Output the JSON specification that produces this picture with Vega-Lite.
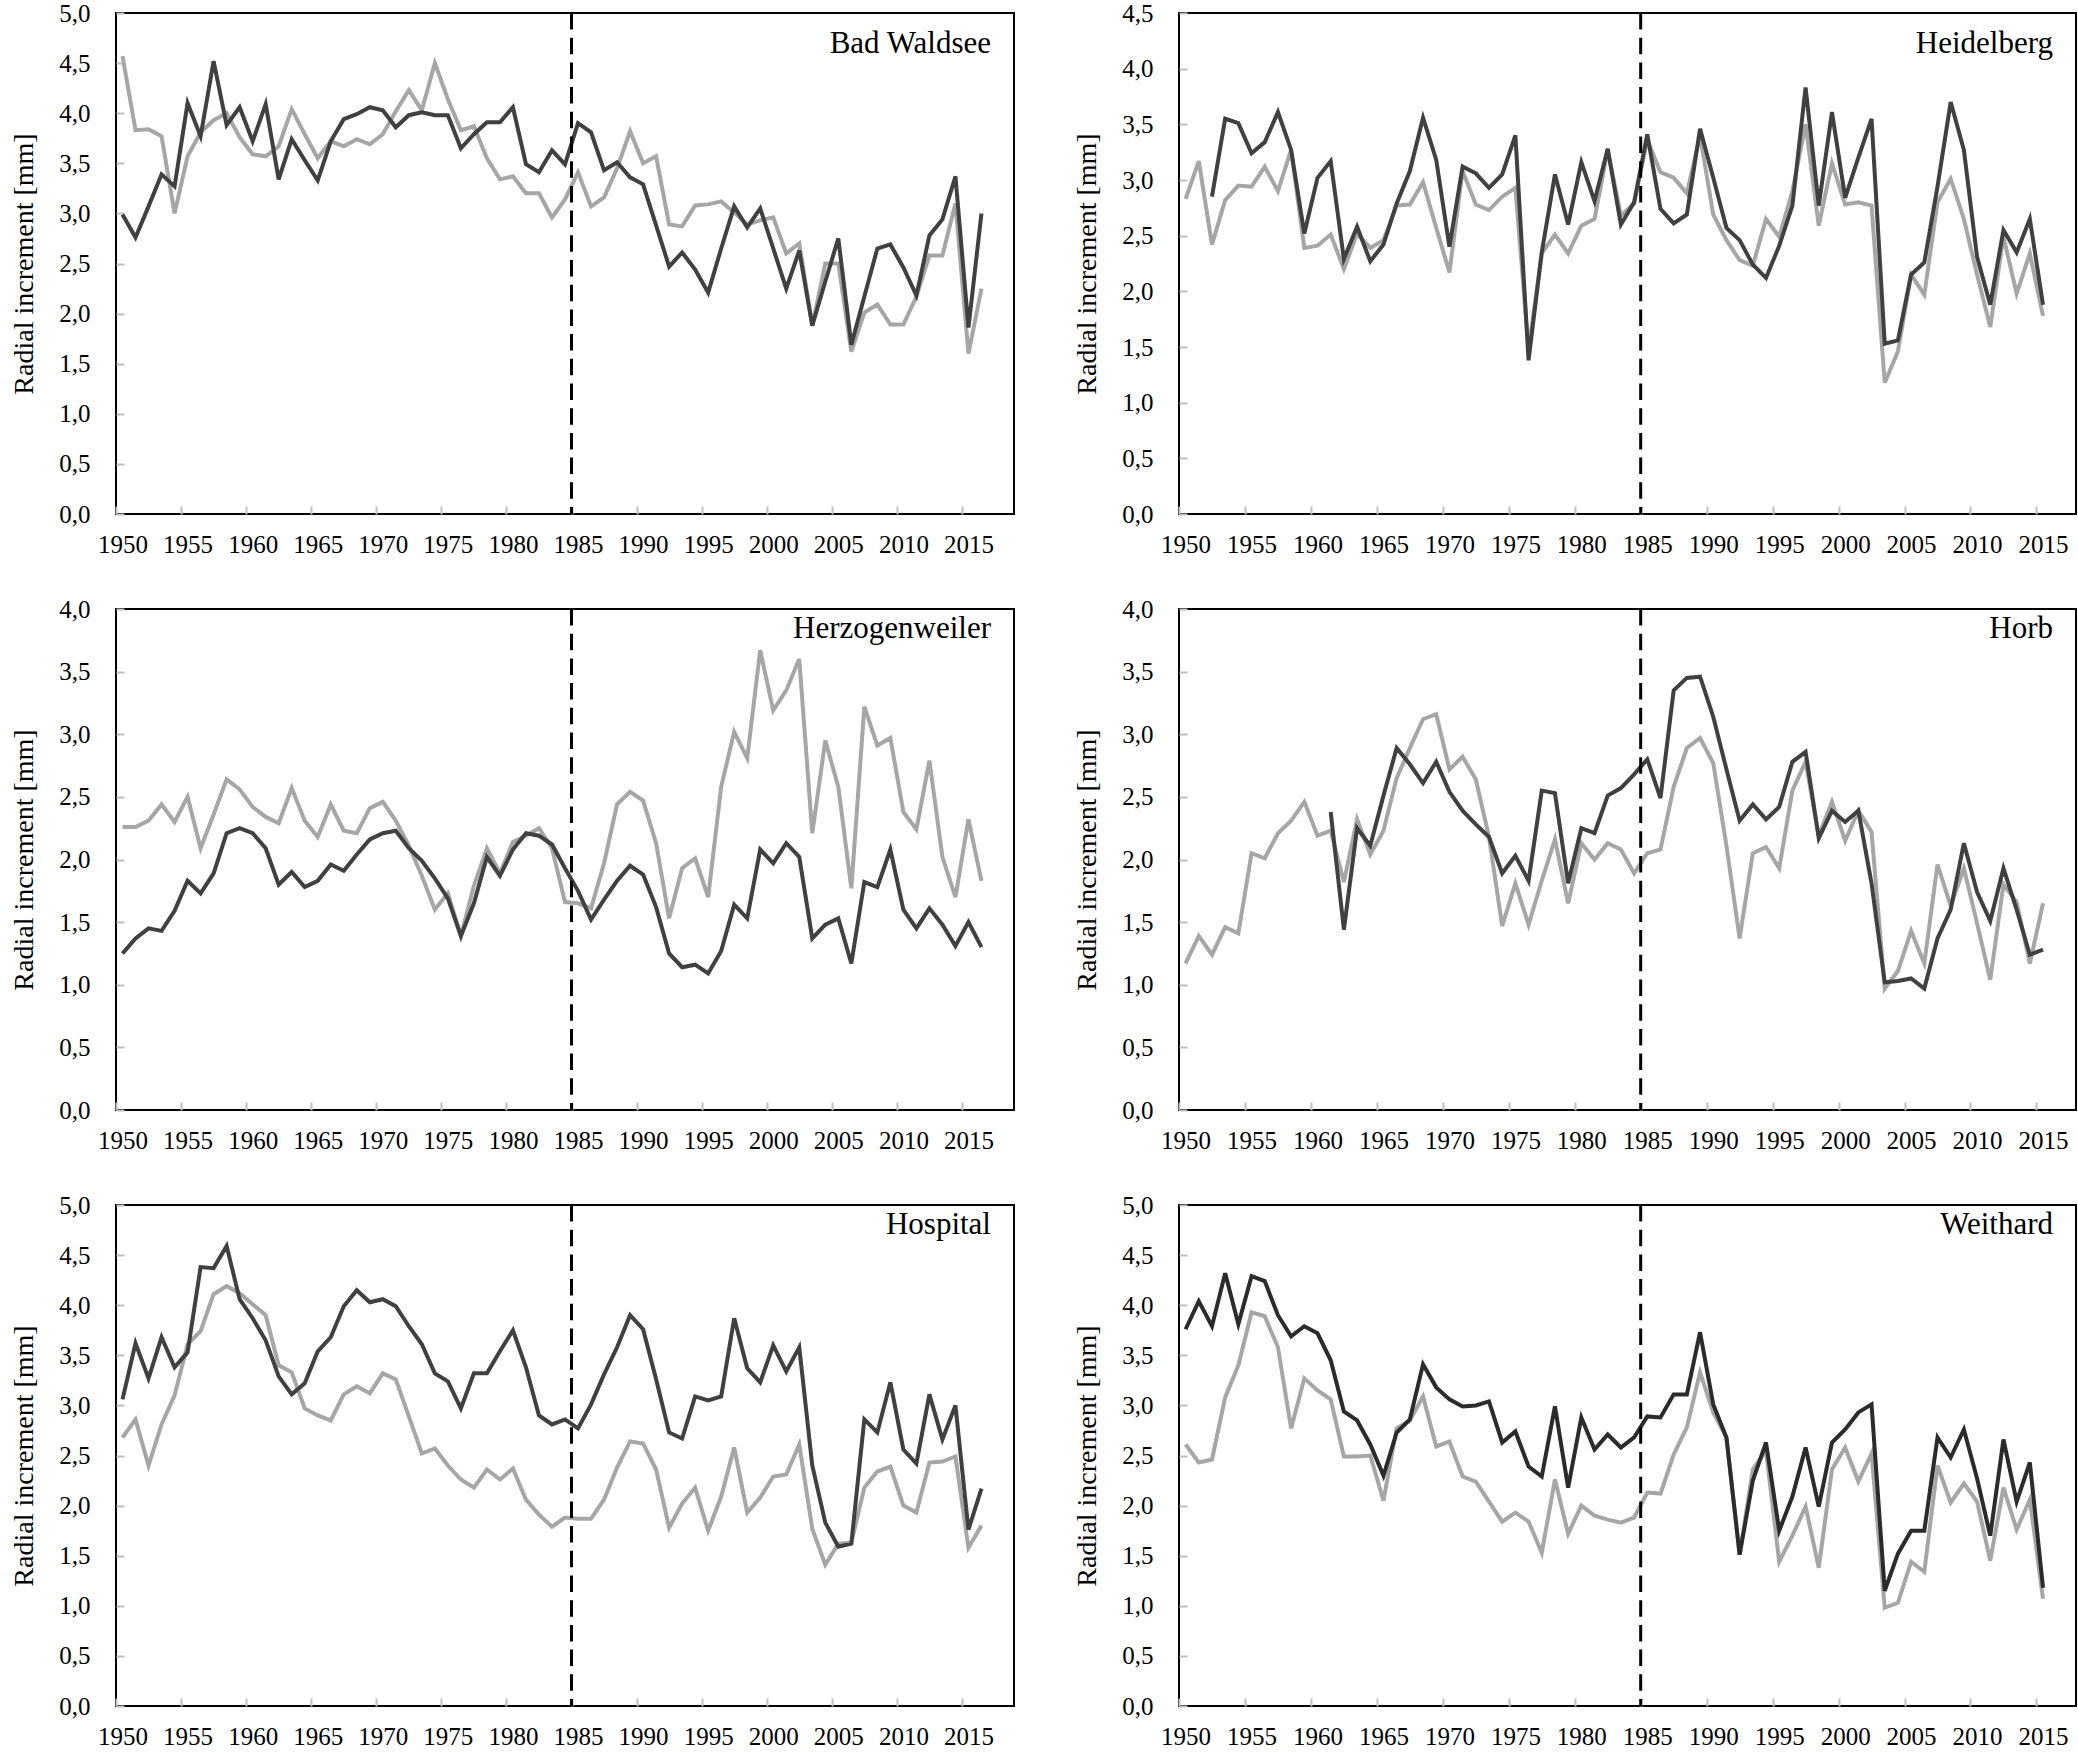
{
  "$schema": "https://vega.github.io/schema/vega-lite/v6.json",
  "background": "white",
  "padding": {"left": 9, "top": 0, "right": 4, "bottom": 4},
  "bounds": "flush",
  "columns": 2,
  "spacing": {"row": 95, "column": 165},
  "config": {
    "font": "Liberation Serif",
    "view": {"stroke": "#000", "strokeWidth": 2},
    "axis": {
      "grid": false, "domain": false, "ticks": true,
      "tickColor": "#bfbfbf", "tickSize": -8, "tickWidth": 2,
      "labelFont": "Liberation Serif", "labelFontSize": 25, "labelColor": "#000",
      "labelFlush": false, "labelOverlap": false,
      "titleFont": "Liberation Serif", "titleFontSize": 28, "titleFontWeight": "normal", "titleColor": "#000"
    },
    "axisY": {"labelPadding": 34, "titlePadding": 20},
    "axisX": {"labelPadding": 26},
    "title": {"font": "Liberation Serif", "fontSize": 31, "fontWeight": "normal", "anchor": "end", "frame": "group", "dx": -23, "baseline": "alphabetic", "color": "#000"}
  },
  "datasets": {
    "break_year": [{"year": 1984.5}],
    "bad_waldsee": [
      {"year":1950,"series_A":2.99,"series_B":4.57},{"year":1951,"series_A":2.76,"series_B":3.83},{"year":1952,"series_A":3.07,"series_B":3.84},{"year":1953,"series_A":3.39,"series_B":3.77},{"year":1954,"series_A":3.27,"series_B":3.00},{"year":1955,"series_A":4.10,"series_B":3.57},{"year":1956,"series_A":3.77,"series_B":3.81},{"year":1957,"series_A":4.52,"series_B":3.93},{"year":1958,"series_A":3.88,"series_B":4.00},{"year":1959,"series_A":4.06,"series_B":3.76},
      {"year":1960,"series_A":3.72,"series_B":3.59},{"year":1961,"series_A":4.09,"series_B":3.57},{"year":1962,"series_A":3.34,"series_B":3.67},{"year":1963,"series_A":3.74,"series_B":4.04},{"year":1964,"series_A":3.53,"series_B":3.79},{"year":1965,"series_A":3.33,"series_B":3.55},{"year":1966,"series_A":3.72,"series_B":3.72},{"year":1967,"series_A":3.94,"series_B":3.67},{"year":1968,"series_A":3.99,"series_B":3.74},{"year":1969,"series_A":4.06,"series_B":3.69},
      {"year":1970,"series_A":4.03,"series_B":3.79},{"year":1971,"series_A":3.86,"series_B":4.02},{"year":1972,"series_A":3.98,"series_B":4.23},{"year":1973,"series_A":4.01,"series_B":4.03},{"year":1974,"series_A":3.98,"series_B":4.50},{"year":1975,"series_A":3.98,"series_B":4.14},{"year":1976,"series_A":3.65,"series_B":3.83},{"year":1977,"series_A":3.79,"series_B":3.87},{"year":1978,"series_A":3.91,"series_B":3.55},{"year":1979,"series_A":3.91,"series_B":3.34},
      {"year":1980,"series_A":4.06,"series_B":3.37},{"year":1981,"series_A":3.49,"series_B":3.20},{"year":1982,"series_A":3.41,"series_B":3.20},{"year":1983,"series_A":3.63,"series_B":2.96},{"year":1984,"series_A":3.49,"series_B":3.14},{"year":1985,"series_A":3.90,"series_B":3.41},{"year":1986,"series_A":3.81,"series_B":3.07},{"year":1987,"series_A":3.43,"series_B":3.16},{"year":1988,"series_A":3.51,"series_B":3.45},{"year":1989,"series_A":3.36,"series_B":3.82},
      {"year":1990,"series_A":3.29,"series_B":3.50},{"year":1991,"series_A":2.88,"series_B":3.57},{"year":1992,"series_A":2.47,"series_B":2.89},{"year":1993,"series_A":2.61,"series_B":2.87},{"year":1994,"series_A":2.44,"series_B":3.08},{"year":1995,"series_A":2.21,"series_B":3.09},{"year":1996,"series_A":2.65,"series_B":3.12},{"year":1997,"series_A":3.07,"series_B":3.01},{"year":1998,"series_A":2.86,"series_B":2.89},{"year":1999,"series_A":3.05,"series_B":2.93},
      {"year":2000,"series_A":2.65,"series_B":2.96},{"year":2001,"series_A":2.25,"series_B":2.60},{"year":2002,"series_A":2.63,"series_B":2.70},{"year":2003,"series_A":1.88,"series_B":1.88},{"year":2004,"series_A":2.32,"series_B":2.50},{"year":2005,"series_A":2.75,"series_B":2.50},{"year":2006,"series_A":1.69,"series_B":1.62},{"year":2007,"series_A":2.17,"series_B":2.01},{"year":2008,"series_A":2.65,"series_B":2.09},{"year":2009,"series_A":2.69,"series_B":1.89},
      {"year":2010,"series_A":2.46,"series_B":1.89},{"year":2011,"series_A":2.18,"series_B":2.17},{"year":2012,"series_A":2.78,"series_B":2.58},{"year":2013,"series_A":2.94,"series_B":2.58},{"year":2014,"series_A":3.37,"series_B":3.10},{"year":2015,"series_A":1.86,"series_B":1.60},{"year":2016,"series_A":3.00,"series_B":2.25}
    ],
    "heidelberg": [
      {"year":1950,"series_B":2.83},{"year":1951,"series_B":3.17},{"year":1952,"series_A":2.85,"series_B":2.42},{"year":1953,"series_A":3.55,"series_B":2.82},{"year":1954,"series_A":3.51,"series_B":2.95},{"year":1955,"series_A":3.24,"series_B":2.94},{"year":1956,"series_A":3.34,"series_B":3.12},{"year":1957,"series_A":3.61,"series_B":2.90},{"year":1958,"series_A":3.27,"series_B":3.27},{"year":1959,"series_A":2.52,"series_B":2.39},
      {"year":1960,"series_A":3.02,"series_B":2.41},{"year":1961,"series_A":3.17,"series_B":2.51},{"year":1962,"series_A":2.29,"series_B":2.20},{"year":1963,"series_A":2.58,"series_B":2.52},{"year":1964,"series_A":2.27,"series_B":2.39},{"year":1965,"series_A":2.42,"series_B":2.46},{"year":1966,"series_A":2.79,"series_B":2.77},{"year":1967,"series_A":3.08,"series_B":2.78},{"year":1968,"series_A":3.56,"series_B":2.98},{"year":1969,"series_A":3.18,"series_B":2.57},
      {"year":1970,"series_A":2.40,"series_B":2.17},{"year":1971,"series_A":3.12,"series_B":3.08},{"year":1972,"series_A":3.06,"series_B":2.78},{"year":1973,"series_A":2.93,"series_B":2.73},{"year":1974,"series_A":3.05,"series_B":2.85},{"year":1975,"series_A":3.40,"series_B":2.93},{"year":1976,"series_A":1.38,"series_B":1.48},{"year":1977,"series_A":2.35,"series_B":2.34},{"year":1978,"series_A":3.05,"series_B":2.51},{"year":1979,"series_A":2.60,"series_B":2.34},
      {"year":1980,"series_A":3.16,"series_B":2.59},{"year":1981,"series_A":2.81,"series_B":2.65},{"year":1982,"series_A":3.28,"series_B":3.27},{"year":1983,"series_A":2.60,"series_B":2.68},{"year":1984,"series_A":2.80,"series_B":2.79},{"year":1985,"series_A":3.41,"series_B":3.36},{"year":1986,"series_A":2.74,"series_B":3.07},{"year":1987,"series_A":2.61,"series_B":3.02},{"year":1988,"series_A":2.69,"series_B":2.88},{"year":1989,"series_A":3.46,"series_B":3.40},
      {"year":1990,"series_A":3.02,"series_B":2.69},{"year":1991,"series_A":2.57,"series_B":2.46},{"year":1992,"series_A":2.46,"series_B":2.28},{"year":1993,"series_A":2.24,"series_B":2.23},{"year":1994,"series_A":2.12,"series_B":2.65},{"year":1995,"series_A":2.41,"series_B":2.49},{"year":1996,"series_A":2.77,"series_B":2.90},{"year":1997,"series_A":3.83,"series_B":3.50},{"year":1998,"series_A":2.77,"series_B":2.59},{"year":1999,"series_A":3.61,"series_B":3.15},
      {"year":2000,"series_A":2.84,"series_B":2.78},{"year":2001,"series_A":3.20,"series_B":2.80},{"year":2002,"series_A":3.55,"series_B":2.77},{"year":2003,"series_A":1.53,"series_B":1.18},{"year":2004,"series_A":1.56,"series_B":1.46},{"year":2005,"series_A":2.15,"series_B":2.15},{"year":2006,"series_A":2.26,"series_B":1.97},{"year":2007,"series_A":2.94,"series_B":2.80},{"year":2008,"series_A":3.70,"series_B":3.01},{"year":2009,"series_A":3.27,"series_B":2.65},
      {"year":2010,"series_A":2.31,"series_B":2.15},{"year":2011,"series_A":1.88,"series_B":1.68},{"year":2012,"series_A":2.55,"series_B":2.49},{"year":2013,"series_A":2.35,"series_B":1.98},{"year":2014,"series_A":2.65,"series_B":2.34},{"year":2015,"series_A":1.88,"series_B":1.78}
    ],
    "herzogenweiler": [
      {"year":1950,"series_A":1.25,"series_B":2.26},{"year":1951,"series_A":1.37,"series_B":2.26},{"year":1952,"series_A":1.45,"series_B":2.31},{"year":1953,"series_A":1.43,"series_B":2.44},{"year":1954,"series_A":1.59,"series_B":2.30},{"year":1955,"series_A":1.83,"series_B":2.50},{"year":1956,"series_A":1.73,"series_B":2.09},{"year":1957,"series_A":1.89,"series_B":2.36},{"year":1958,"series_A":2.21,"series_B":2.64},{"year":1959,"series_A":2.25,"series_B":2.56},
      {"year":1960,"series_A":2.21,"series_B":2.42},{"year":1961,"series_A":2.09,"series_B":2.34},{"year":1962,"series_A":1.80,"series_B":2.29},{"year":1963,"series_A":1.90,"series_B":2.57},{"year":1964,"series_A":1.78,"series_B":2.31},{"year":1965,"series_A":1.83,"series_B":2.18},{"year":1966,"series_A":1.96,"series_B":2.44},{"year":1967,"series_A":1.91,"series_B":2.23},{"year":1968,"series_A":2.04,"series_B":2.21},{"year":1969,"series_A":2.16,"series_B":2.41},
      {"year":1970,"series_A":2.21,"series_B":2.46},{"year":1971,"series_A":2.23,"series_B":2.31},{"year":1972,"series_A":2.09,"series_B":2.11},{"year":1973,"series_A":1.99,"series_B":1.87},{"year":1974,"series_A":1.85,"series_B":1.60},{"year":1975,"series_A":1.69,"series_B":1.73},{"year":1976,"series_A":1.39,"series_B":1.39},{"year":1977,"series_A":1.65,"series_B":1.79},{"year":1978,"series_A":2.02,"series_B":2.09},{"year":1979,"series_A":1.87,"series_B":1.89},
      {"year":1980,"series_A":2.08,"series_B":2.14},{"year":1981,"series_A":2.21,"series_B":2.19},{"year":1982,"series_A":2.19,"series_B":2.25},{"year":1983,"series_A":2.12,"series_B":2.09},{"year":1984,"series_A":1.93,"series_B":1.66},{"year":1985,"series_A":1.75,"series_B":1.65},{"year":1986,"series_A":1.52,"series_B":1.61},{"year":1987,"series_A":1.68,"series_B":1.97},{"year":1988,"series_A":1.83,"series_B":2.44},{"year":1989,"series_A":1.95,"series_B":2.54},
      {"year":1990,"series_A":1.88,"series_B":2.47},{"year":1991,"series_A":1.62,"series_B":2.13},{"year":1992,"series_A":1.25,"series_B":1.53},{"year":1993,"series_A":1.14,"series_B":1.93},{"year":1994,"series_A":1.16,"series_B":2.01},{"year":1995,"series_A":1.09,"series_B":1.70},{"year":1996,"series_A":1.27,"series_B":2.58},{"year":1997,"series_A":1.64,"series_B":3.02},{"year":1998,"series_A":1.53,"series_B":2.81},{"year":1999,"series_A":2.08,"series_B":3.67},
      {"year":2000,"series_A":1.97,"series_B":3.19},{"year":2001,"series_A":2.13,"series_B":3.35},{"year":2002,"series_A":2.02,"series_B":3.60},{"year":2003,"series_A":1.37,"series_B":2.21},{"year":2004,"series_A":1.48,"series_B":2.95},{"year":2005,"series_A":1.53,"series_B":2.58},{"year":2006,"series_A":1.17,"series_B":1.77},{"year":2007,"series_A":1.82,"series_B":3.22},{"year":2008,"series_A":1.78,"series_B":2.91},{"year":2009,"series_A":2.08,"series_B":2.97},
      {"year":2010,"series_A":1.60,"series_B":2.38},{"year":2011,"series_A":1.45,"series_B":2.24},{"year":2012,"series_A":1.61,"series_B":2.79},{"year":2013,"series_A":1.48,"series_B":2.02},{"year":2014,"series_A":1.31,"series_B":1.70},{"year":2015,"series_A":1.50,"series_B":2.32},{"year":2016,"series_A":1.30,"series_B":1.83}
    ],
    "horb": [
      {"year":1950,"series_B":1.17},{"year":1951,"series_B":1.39},{"year":1952,"series_B":1.24},{"year":1953,"series_B":1.46},{"year":1954,"series_B":1.41},{"year":1955,"series_B":2.05},{"year":1956,"series_B":2.01},{"year":1957,"series_B":2.21},{"year":1958,"series_B":2.31},{"year":1959,"series_B":2.46},
      {"year":1960,"series_B":2.19},{"year":1961,"series_A":2.38,"series_B":2.23},{"year":1962,"series_A":1.44,"series_B":1.82},{"year":1963,"series_A":2.25,"series_B":2.32},{"year":1964,"series_A":2.11,"series_B":2.04},{"year":1965,"series_A":2.51,"series_B":2.23},{"year":1966,"series_A":2.89,"series_B":2.65},{"year":1967,"series_A":2.76,"series_B":2.89},{"year":1968,"series_A":2.61,"series_B":3.12},{"year":1969,"series_A":2.78,"series_B":3.16},
      {"year":1970,"series_A":2.54,"series_B":2.72},{"year":1971,"series_A":2.39,"series_B":2.82},{"year":1972,"series_A":2.28,"series_B":2.64},{"year":1973,"series_A":2.18,"series_B":2.18},{"year":1974,"series_A":1.89,"series_B":1.47},{"year":1975,"series_A":2.03,"series_B":1.81},{"year":1976,"series_A":1.83,"series_B":1.48},{"year":1977,"series_A":2.55,"series_B":1.83},{"year":1978,"series_A":2.53,"series_B":2.16},{"year":1979,"series_A":1.81,"series_B":1.65},
      {"year":1980,"series_A":2.25,"series_B":2.13},{"year":1981,"series_A":2.21,"series_B":2.00},{"year":1982,"series_A":2.51,"series_B":2.13},{"year":1983,"series_A":2.57,"series_B":2.08},{"year":1984,"series_A":2.68,"series_B":1.89},{"year":1985,"series_A":2.80,"series_B":2.05},{"year":1986,"series_A":2.49,"series_B":2.08},{"year":1987,"series_A":3.35,"series_B":2.58},{"year":1988,"series_A":3.45,"series_B":2.89},{"year":1989,"series_A":3.46,"series_B":2.97},
      {"year":1990,"series_A":3.14,"series_B":2.77},{"year":1991,"series_A":2.72,"series_B":2.11},{"year":1992,"series_A":2.31,"series_B":1.37},{"year":1993,"series_A":2.44,"series_B":2.05},{"year":1994,"series_A":2.32,"series_B":2.10},{"year":1995,"series_A":2.42,"series_B":1.93},{"year":1996,"series_A":2.78,"series_B":2.55},{"year":1997,"series_A":2.86,"series_B":2.78},{"year":1998,"series_A":2.17,"series_B":2.19},{"year":1999,"series_A":2.39,"series_B":2.46},
      {"year":2000,"series_A":2.30,"series_B":2.15},{"year":2001,"series_A":2.39,"series_B":2.39},{"year":2002,"series_A":1.81,"series_B":2.22},{"year":2003,"series_A":1.02,"series_B":0.97},{"year":2004,"series_A":1.03,"series_B":1.11},{"year":2005,"series_A":1.05,"series_B":1.43},{"year":2006,"series_A":0.97,"series_B":1.17},{"year":2007,"series_A":1.37,"series_B":1.96},{"year":2008,"series_A":1.60,"series_B":1.63},{"year":2009,"series_A":2.13,"series_B":1.93},
      {"year":2010,"series_A":1.74,"series_B":1.49},{"year":2011,"series_A":1.51,"series_B":1.04},{"year":2012,"series_A":1.93,"series_B":1.80},{"year":2013,"series_A":1.60,"series_B":1.66},{"year":2014,"series_A":1.24,"series_B":1.17},{"year":2015,"series_A":1.28,"series_B":1.65}
    ],
    "hospital": [
      {"year":1950,"series_A":3.06,"series_B":2.68},{"year":1951,"series_A":3.62,"series_B":2.86},{"year":1952,"series_A":3.27,"series_B":2.40},{"year":1953,"series_A":3.68,"series_B":2.81},{"year":1954,"series_A":3.38,"series_B":3.10},{"year":1955,"series_A":3.53,"series_B":3.61},{"year":1956,"series_A":4.38,"series_B":3.74},{"year":1957,"series_A":4.37,"series_B":4.11},{"year":1958,"series_A":4.59,"series_B":4.19},{"year":1959,"series_A":4.06,"series_B":4.12},
      {"year":1960,"series_A":3.87,"series_B":4.01},{"year":1961,"series_A":3.65,"series_B":3.90},{"year":1962,"series_A":3.29,"series_B":3.40},{"year":1963,"series_A":3.11,"series_B":3.33},{"year":1964,"series_A":3.22,"series_B":2.97},{"year":1965,"series_A":3.54,"series_B":2.90},{"year":1966,"series_A":3.68,"series_B":2.85},{"year":1967,"series_A":3.99,"series_B":3.11},{"year":1968,"series_A":4.15,"series_B":3.19},{"year":1969,"series_A":4.03,"series_B":3.12},
      {"year":1970,"series_A":4.06,"series_B":3.32},{"year":1971,"series_A":3.99,"series_B":3.26},{"year":1972,"series_A":3.79,"series_B":2.89},{"year":1973,"series_A":3.61,"series_B":2.52},{"year":1974,"series_A":3.32,"series_B":2.57},{"year":1975,"series_A":3.24,"series_B":2.40},{"year":1976,"series_A":2.97,"series_B":2.26},{"year":1977,"series_A":3.32,"series_B":2.18},{"year":1978,"series_A":3.32,"series_B":2.36},{"year":1979,"series_A":3.54,"series_B":2.26},
      {"year":1980,"series_A":3.75,"series_B":2.37},{"year":1981,"series_A":3.38,"series_B":2.06},{"year":1982,"series_A":2.90,"series_B":1.91},{"year":1983,"series_A":2.81,"series_B":1.79},{"year":1984,"series_A":2.86,"series_B":1.88},{"year":1985,"series_A":2.77,"series_B":1.87},{"year":1986,"series_A":3.01,"series_B":1.87},{"year":1987,"series_A":3.31,"series_B":2.06},{"year":1988,"series_A":3.58,"series_B":2.38},{"year":1989,"series_A":3.90,"series_B":2.64},
      {"year":1990,"series_A":3.76,"series_B":2.62},{"year":1991,"series_A":3.26,"series_B":2.36},{"year":1992,"series_A":2.73,"series_B":1.78},{"year":1993,"series_A":2.67,"series_B":2.02},{"year":1994,"series_A":3.09,"series_B":2.18},{"year":1995,"series_A":3.05,"series_B":1.75},{"year":1996,"series_A":3.09,"series_B":2.09},{"year":1997,"series_A":3.87,"series_B":2.58},{"year":1998,"series_A":3.37,"series_B":1.93},{"year":1999,"series_A":3.23,"series_B":2.08},
      {"year":2000,"series_A":3.60,"series_B":2.29},{"year":2001,"series_A":3.34,"series_B":2.31},{"year":2002,"series_A":3.58,"series_B":2.61},{"year":2003,"series_A":2.40,"series_B":1.77},{"year":2004,"series_A":1.83,"series_B":1.41},{"year":2005,"series_A":1.59,"series_B":1.62},{"year":2006,"series_A":1.62,"series_B":1.63},{"year":2007,"series_A":2.86,"series_B":2.18},{"year":2008,"series_A":2.73,"series_B":2.34},{"year":2009,"series_A":3.23,"series_B":2.39},
      {"year":2010,"series_A":2.56,"series_B":2.00},{"year":2011,"series_A":2.42,"series_B":1.93},{"year":2012,"series_A":3.11,"series_B":2.43},{"year":2013,"series_A":2.66,"series_B":2.44},{"year":2014,"series_A":3.00,"series_B":2.49},{"year":2015,"series_A":1.76,"series_B":1.58},{"year":2016,"series_A":2.17,"series_B":1.80}
    ],
    "weithard": [
      {"year":1950,"series_A":3.76,"series_B":2.61},{"year":1951,"series_A":4.04,"series_B":2.43},{"year":1952,"series_A":3.79,"series_B":2.46},{"year":1953,"series_A":4.32,"series_B":3.08},{"year":1954,"series_A":3.81,"series_B":3.40},{"year":1955,"series_A":4.29,"series_B":3.93},{"year":1956,"series_A":4.24,"series_B":3.89},{"year":1957,"series_A":3.90,"series_B":3.58},{"year":1958,"series_A":3.69,"series_B":2.77},{"year":1959,"series_A":3.79,"series_B":3.27},
      {"year":1960,"series_A":3.72,"series_B":3.15},{"year":1961,"series_A":3.45,"series_B":3.06},{"year":1962,"series_A":2.94,"series_B":2.49},{"year":1963,"series_A":2.85,"series_B":2.49},{"year":1964,"series_A":2.61,"series_B":2.50},{"year":1965,"series_A":2.30,"series_B":2.05},{"year":1966,"series_A":2.73,"series_B":2.77},{"year":1967,"series_A":2.86,"series_B":2.85},{"year":1968,"series_A":3.41,"series_B":3.09},{"year":1969,"series_A":3.18,"series_B":2.59},
      {"year":1970,"series_A":3.06,"series_B":2.64},{"year":1971,"series_A":2.99,"series_B":2.29},{"year":1972,"series_A":3.00,"series_B":2.24},{"year":1973,"series_A":3.04,"series_B":2.04},{"year":1974,"series_A":2.63,"series_B":1.84},{"year":1975,"series_A":2.74,"series_B":1.93},{"year":1976,"series_A":2.39,"series_B":1.84},{"year":1977,"series_A":2.29,"series_B":1.53},{"year":1978,"series_A":2.99,"series_B":2.26},{"year":1979,"series_A":2.18,"series_B":1.72},
      {"year":1980,"series_A":2.88,"series_B":2.00},{"year":1981,"series_A":2.56,"series_B":1.90},{"year":1982,"series_A":2.71,"series_B":1.86},{"year":1983,"series_A":2.58,"series_B":1.83},{"year":1984,"series_A":2.68,"series_B":1.88},{"year":1985,"series_A":2.89,"series_B":2.13},{"year":1986,"series_A":2.88,"series_B":2.12},{"year":1987,"series_A":3.11,"series_B":2.51},{"year":1988,"series_A":3.11,"series_B":2.78},{"year":1989,"series_A":3.73,"series_B":3.33},
      {"year":1990,"series_A":3.01,"series_B":2.93},{"year":1991,"series_A":2.68,"series_B":2.68},{"year":1992,"series_A":1.51,"series_B":1.51},{"year":1993,"series_A":2.25,"series_B":2.36},{"year":1994,"series_A":2.63,"series_B":2.55},{"year":1995,"series_A":1.75,"series_B":1.44},{"year":1996,"series_A":2.09,"series_B":1.70},{"year":1997,"series_A":2.58,"series_B":1.99},{"year":1998,"series_A":1.99,"series_B":1.38},{"year":1999,"series_A":2.63,"series_B":2.36},
      {"year":2000,"series_A":2.76,"series_B":2.58},{"year":2001,"series_A":2.93,"series_B":2.24},{"year":2002,"series_A":3.01,"series_B":2.52},{"year":2003,"series_A":1.15,"series_B":0.98},{"year":2004,"series_A":1.52,"series_B":1.03},{"year":2005,"series_A":1.75,"series_B":1.44},{"year":2006,"series_A":1.75,"series_B":1.34},{"year":2007,"series_A":2.68,"series_B":2.40},{"year":2008,"series_A":2.48,"series_B":2.03},{"year":2009,"series_A":2.76,"series_B":2.22},
      {"year":2010,"series_A":2.27,"series_B":2.04},{"year":2011,"series_A":1.70,"series_B":1.45},{"year":2012,"series_A":2.66,"series_B":2.18},{"year":2013,"series_A":2.04,"series_B":1.76},{"year":2014,"series_A":2.43,"series_B":2.06},{"year":2015,"series_A":1.18,"series_B":1.07}
    ]
  },
  "concat": [
    {
      "width": 898, "height": 501,
      "data": {"name": "bad_waldsee"},
      "title": {"text": "Bad Waldsee", "offset": -59},
      "encoding": {"x": {"field": "year", "type": "quantitative", "scale": {"domain": [1949.5, 2018.5], "nice": false, "zero": false}, "axis": {"title": null, "values": [1950,1955,1960,1965,1970,1975,1980,1985,1990,1995,2000,2005,2010,2015], "format": "d", "tickOffset": -6.51, "labelOffset": 6.51}}},
      "layer": [
        {"mark": {"type": "line", "color": "#a6a6a6", "strokeWidth": 4}, "encoding": {"y": {"field": "series_B", "type": "quantitative", "scale": {"domain": [0, 5], "nice": false}, "axis": {"title": "Radial increment [mm]", "values": [0,0.5,1,1.5,2,2.5,3,3.5,4,4.5,5], "labelExpr": "replace(format(datum.value, '.1f'), '.', ',')"}}}},
        {"mark": {"type": "line", "color": "#404040", "strokeWidth": 4}, "encoding": {"y": {"field": "series_A", "type": "quantitative", "axis": {"title": "Radial increment [mm]", "values": [0,0.5,1,1.5,2,2.5,3,3.5,4,4.5,5], "labelExpr": "replace(format(datum.value, '.1f'), '.', ',')"}}}},
        {"data": {"name": "break_year"}, "mark": {"type": "rule", "color": "#000", "strokeWidth": 3, "strokeDash": [16.5, 8.2]}, "encoding": {}}
      ]
    },
    {
      "width": 897, "height": 501,
      "data": {"name": "heidelberg"},
      "title": {"text": "Heidelberg", "offset": -59},
      "encoding": {"x": {"field": "year", "type": "quantitative", "scale": {"domain": [1949.5, 2017.5], "nice": false, "zero": false}, "axis": {"title": null, "values": [1950,1955,1960,1965,1970,1975,1980,1985,1990,1995,2000,2005,2010,2015], "format": "d", "tickOffset": -6.6, "labelOffset": 6.6}}},
      "layer": [
        {"mark": {"type": "line", "color": "#a6a6a6", "strokeWidth": 4}, "encoding": {"y": {"field": "series_B", "type": "quantitative", "scale": {"domain": [0, 4.5], "nice": false}, "axis": {"title": "Radial increment [mm]", "values": [0,0.5,1,1.5,2,2.5,3,3.5,4,4.5], "labelExpr": "replace(format(datum.value, '.1f'), '.', ',')"}}}},
        {"mark": {"type": "line", "color": "#404040", "strokeWidth": 4}, "encoding": {"y": {"field": "series_A", "type": "quantitative", "axis": {"title": "Radial increment [mm]", "values": [0,0.5,1,1.5,2,2.5,3,3.5,4,4.5], "labelExpr": "replace(format(datum.value, '.1f'), '.', ',')"}}}},
        {"data": {"name": "break_year"}, "mark": {"type": "rule", "color": "#000", "strokeWidth": 3, "strokeDash": [16.5, 8.2]}, "encoding": {}}
      ]
    },
    {
      "width": 898, "height": 501,
      "data": {"name": "herzogenweiler"},
      "title": {"text": "Herzogenweiler", "offset": -48},
      "encoding": {"x": {"field": "year", "type": "quantitative", "scale": {"domain": [1949.5, 2018.5], "nice": false, "zero": false}, "axis": {"title": null, "values": [1950,1955,1960,1965,1970,1975,1980,1985,1990,1995,2000,2005,2010,2015], "format": "d", "tickOffset": -6.51, "labelOffset": 6.51}}},
      "layer": [
        {"mark": {"type": "line", "color": "#a6a6a6", "strokeWidth": 4}, "encoding": {"y": {"field": "series_B", "type": "quantitative", "scale": {"domain": [0, 4], "nice": false}, "axis": {"title": "Radial increment [mm]", "values": [0,0.5,1,1.5,2,2.5,3,3.5,4], "labelExpr": "replace(format(datum.value, '.1f'), '.', ',')"}}}},
        {"mark": {"type": "line", "color": "#404040", "strokeWidth": 4}, "encoding": {"y": {"field": "series_A", "type": "quantitative", "axis": {"title": "Radial increment [mm]", "values": [0,0.5,1,1.5,2,2.5,3,3.5,4], "labelExpr": "replace(format(datum.value, '.1f'), '.', ',')"}}}},
        {"data": {"name": "break_year"}, "mark": {"type": "rule", "color": "#000", "strokeWidth": 3, "strokeDash": [16.5, 8.2]}, "encoding": {}}
      ]
    },
    {
      "width": 897, "height": 501,
      "data": {"name": "horb"},
      "title": {"text": "Horb", "offset": -48},
      "encoding": {"x": {"field": "year", "type": "quantitative", "scale": {"domain": [1949.5, 2017.5], "nice": false, "zero": false}, "axis": {"title": null, "values": [1950,1955,1960,1965,1970,1975,1980,1985,1990,1995,2000,2005,2010,2015], "format": "d", "tickOffset": -6.6, "labelOffset": 6.6}}},
      "layer": [
        {"mark": {"type": "line", "color": "#a6a6a6", "strokeWidth": 4}, "encoding": {"y": {"field": "series_B", "type": "quantitative", "scale": {"domain": [0, 4], "nice": false}, "axis": {"title": "Radial increment [mm]", "values": [0,0.5,1,1.5,2,2.5,3,3.5,4], "labelExpr": "replace(format(datum.value, '.1f'), '.', ',')"}}}},
        {"mark": {"type": "line", "color": "#404040", "strokeWidth": 4}, "encoding": {"y": {"field": "series_A", "type": "quantitative", "axis": {"title": "Radial increment [mm]", "values": [0,0.5,1,1.5,2,2.5,3,3.5,4], "labelExpr": "replace(format(datum.value, '.1f'), '.', ',')"}}}},
        {"data": {"name": "break_year"}, "mark": {"type": "rule", "color": "#000", "strokeWidth": 3, "strokeDash": [16.5, 8.2]}, "encoding": {}}
      ]
    },
    {
      "width": 898, "height": 501,
      "data": {"name": "hospital"},
      "title": {"text": "Hospital", "offset": -48},
      "encoding": {"x": {"field": "year", "type": "quantitative", "scale": {"domain": [1949.5, 2018.5], "nice": false, "zero": false}, "axis": {"title": null, "values": [1950,1955,1960,1965,1970,1975,1980,1985,1990,1995,2000,2005,2010,2015], "format": "d", "tickOffset": -6.51, "labelOffset": 6.51}}},
      "layer": [
        {"mark": {"type": "line", "color": "#a6a6a6", "strokeWidth": 4}, "encoding": {"y": {"field": "series_B", "type": "quantitative", "scale": {"domain": [0, 5], "nice": false}, "axis": {"title": "Radial increment [mm]", "values": [0,0.5,1,1.5,2,2.5,3,3.5,4,4.5,5], "labelExpr": "replace(format(datum.value, '.1f'), '.', ',')"}}}},
        {"mark": {"type": "line", "color": "#404040", "strokeWidth": 4}, "encoding": {"y": {"field": "series_A", "type": "quantitative", "axis": {"title": "Radial increment [mm]", "values": [0,0.5,1,1.5,2,2.5,3,3.5,4,4.5,5], "labelExpr": "replace(format(datum.value, '.1f'), '.', ',')"}}}},
        {"data": {"name": "break_year"}, "mark": {"type": "rule", "color": "#000", "strokeWidth": 3, "strokeDash": [16.5, 8.2]}, "encoding": {}}
      ]
    },
    {
      "width": 897, "height": 501,
      "data": {"name": "weithard"},
      "title": {"text": "Weithard", "offset": -48},
      "encoding": {"x": {"field": "year", "type": "quantitative", "scale": {"domain": [1949.5, 2017.5], "nice": false, "zero": false}, "axis": {"title": null, "values": [1950,1955,1960,1965,1970,1975,1980,1985,1990,1995,2000,2005,2010,2015], "format": "d", "tickOffset": -6.6, "labelOffset": 6.6}}},
      "layer": [
        {"mark": {"type": "line", "color": "#a6a6a6", "strokeWidth": 4}, "encoding": {"y": {"field": "series_B", "type": "quantitative", "scale": {"domain": [0, 5], "nice": false}, "axis": {"title": "Radial increment [mm]", "values": [0,0.5,1,1.5,2,2.5,3,3.5,4,4.5,5], "labelExpr": "replace(format(datum.value, '.1f'), '.', ',')"}}}},
        {"mark": {"type": "line", "color": "#2b2b2b", "strokeWidth": 4}, "encoding": {"y": {"field": "series_A", "type": "quantitative", "axis": {"title": "Radial increment [mm]", "values": [0,0.5,1,1.5,2,2.5,3,3.5,4,4.5,5], "labelExpr": "replace(format(datum.value, '.1f'), '.', ',')"}}}},
        {"data": {"name": "break_year"}, "mark": {"type": "rule", "color": "#000", "strokeWidth": 3, "strokeDash": [16.5, 8.2]}, "encoding": {}}
      ]
    }
  ]
}
